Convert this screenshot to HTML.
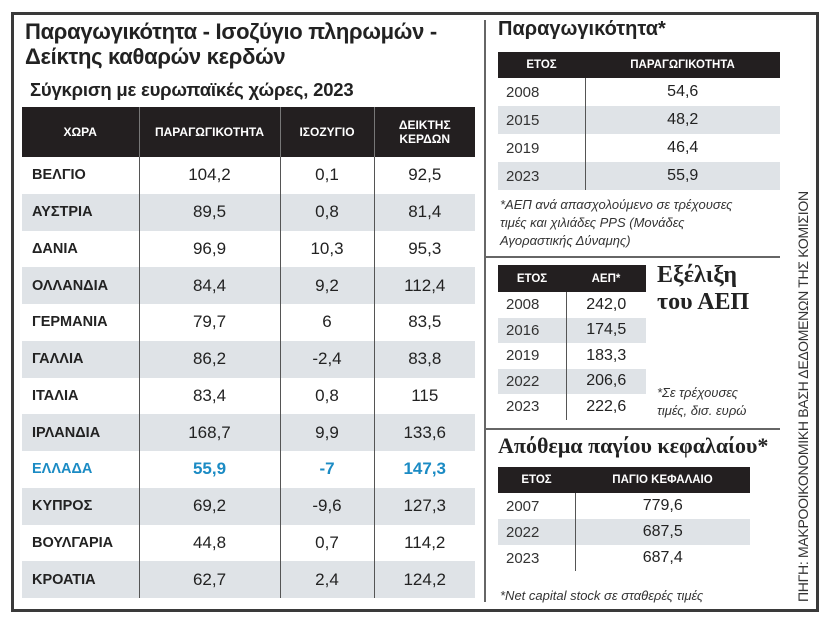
<!DOCTYPE html>
<html><head><meta charset="utf-8"><style>
*{margin:0;padding:0;box-sizing:border-box}
body{width:830px;height:622px;background:#fff;font-family:"Liberation Sans","DejaVu Sans",sans-serif;color:#222;position:relative;overflow:hidden}
.a{position:absolute}
.frame{left:11px;top:12px;width:808px;height:600px;border:3px solid #3a3a3a}
table{border-collapse:collapse;position:absolute}
td,th{padding:0}
th{background:#231f20;color:#fff;font-weight:bold;font-size:12px}
.lt td{height:36.75px;font-size:17px;text-align:center;border-left:1.5px solid #555}
.lt td:first-child{text-align:left;padding-left:10px;font-weight:bold;font-size:14.5px;border-left:none}
.g td{background:#dfe3e7}
.lt th{border-left:1.5px solid #777}
.lt th:first-child{border-left:none}
.gr td{color:#1b8bc4;font-weight:bold}
.rt td{font-size:16px;text-align:center;border-left:1.5px solid #555}
.rt td:first-child{text-align:left;padding-left:8px;border-left:none;font-size:15px;color:#333}
.rt th{font-size:11.5px}
.it{font-style:italic;font-size:13px;color:#333;line-height:18px}
.h{font-family:"Liberation Serif","DejaVu Serif",serif;font-weight:bold;color:#222;white-space:nowrap}
</style></head><body>
<div class="a frame"></div>
<div class="a" style="left:25px;top:19px;font-size:22px;line-height:25px;font-weight:bold;letter-spacing:-0.3px;white-space:nowrap">Παραγωγικότητα - Ισοζύγιο πληρωμών -<br>Δείκτης καθαρών κερδών</div>
<div class="a" style="left:30px;top:79px;font-size:18.5px;font-weight:bold;letter-spacing:-0.2px;white-space:nowrap">Σύγκριση με ευρωπαϊκές χώρες, 2023</div>
<table class="lt" style="left:22px;top:107px;width:453px">
<tr style="height:50px"><th style="width:117px">ΧΩΡΑ</th><th style="width:141px">ΠΑΡΑΓΩΓΙΚΟΤΗΤΑ</th><th style="width:94px">ΙΣΟΖΥΓΙΟ</th><th>ΔΕΙΚΤΗΣ<br>ΚΕΡΔΩΝ</th></tr>
<tr><td>ΒΕΛΓΙΟ</td><td>104,2</td><td>0,1</td><td>92,5</td></tr>
<tr class="g"><td>ΑΥΣΤΡΙΑ</td><td>89,5</td><td>0,8</td><td>81,4</td></tr>
<tr><td>ΔΑΝΙΑ</td><td>96,9</td><td>10,3</td><td>95,3</td></tr>
<tr class="g"><td>ΟΛΛΑΝΔΙΑ</td><td>84,4</td><td>9,2</td><td>112,4</td></tr>
<tr><td>ΓΕΡΜΑΝΙΑ</td><td>79,7</td><td>6</td><td>83,5</td></tr>
<tr class="g"><td>ΓΑΛΛΙΑ</td><td>86,2</td><td>-2,4</td><td>83,8</td></tr>
<tr><td>ΙΤΑΛΙΑ</td><td>83,4</td><td>0,8</td><td>115</td></tr>
<tr class="g"><td>ΙΡΛΑΝΔΙΑ</td><td>168,7</td><td>9,9</td><td>133,6</td></tr>
<tr class="gr"><td style="color:#1b8bc4">ΕΛΛΑΔΑ</td><td>55,9</td><td>-7</td><td>147,3</td></tr>
<tr class="g"><td>ΚΥΠΡΟΣ</td><td>69,2</td><td>-9,6</td><td>127,3</td></tr>
<tr><td>ΒΟΥΛΓΑΡΙΑ</td><td>44,8</td><td>0,7</td><td>114,2</td></tr>
<tr class="g"><td>ΚΡΟΑΤΙΑ</td><td>62,7</td><td>2,4</td><td>124,2</td></tr>
</table>
<div class="a" style="left:484px;top:20px;width:1.5px;height:582px;background:#666"></div>
<div class="a" style="left:498px;top:18px;font-size:20px;font-weight:bold;white-space:nowrap">Παραγωγικότητα*</div>
<table class="rt" style="left:498px;top:52px;width:282px">
<tr style="height:26px"><th style="width:87px">ΕΤΟΣ</th><th>ΠΑΡΑΓΩΓΙΚΟΤΗΤΑ</th></tr>
<tr style="height:28px"><td>2008</td><td>54,6</td></tr>
<tr class="g" style="height:28px"><td>2015</td><td>48,2</td></tr>
<tr style="height:28px"><td>2019</td><td>46,4</td></tr>
<tr class="g" style="height:28px"><td>2023</td><td>55,9</td></tr>
</table>
<div class="a it" style="left:500px;top:196px">*ΑΕΠ ανά απασχολούμενο σε τρέχουσες<br>τιμές και χιλιάδες PPS (Μονάδες<br>Αγοραστικής Δύναμης)</div>
<div class="a" style="left:485px;top:256px;width:295px;height:1.5px;background:#666"></div>
<table class="rt" style="left:498px;top:265px;width:148px">
<tr style="height:27px"><th style="width:68px">ΕΤΟΣ</th><th>ΑΕΠ*</th></tr>
<tr style="height:25.5px"><td>2008</td><td>242,0</td></tr>
<tr class="g" style="height:25.5px"><td>2016</td><td>174,5</td></tr>
<tr style="height:25.5px"><td>2019</td><td>183,3</td></tr>
<tr class="g" style="height:25.5px"><td>2022</td><td>206,6</td></tr>
<tr style="height:25.5px"><td>2023</td><td>222,6</td></tr>
</table>
<div class="a h" style="left:657px;top:262px;font-size:24px;line-height:27px">Εξέλιξη<br>του ΑΕΠ</div>
<div class="a it" style="left:657px;top:384px">*Σε τρέχουσες<br>τιμές, δισ. ευρώ</div>
<div class="a" style="left:485px;top:428px;width:295px;height:1.5px;background:#666"></div>
<div class="a h" style="left:498px;top:433px;font-size:22px">Απόθεμα παγίου κεφαλαίου*</div>
<table class="rt" style="left:498px;top:467px;width:252px">
<tr style="height:26px"><th style="width:77px">ΕΤΟΣ</th><th>ΠΑΓΙΟ ΚΕΦΑΛΑΙΟ</th></tr>
<tr style="height:26px"><td>2007</td><td>779,6</td></tr>
<tr class="g" style="height:26px"><td>2022</td><td>687,5</td></tr>
<tr style="height:26px"><td>2023</td><td>687,4</td></tr>
</table>
<div class="a it" style="left:500px;top:587px">*Net capital stock σε σταθερές τιμές</div>
<div class="a" style="left:796px;top:602px;transform-origin:0 0;transform:rotate(-90deg);white-space:nowrap;font-size:14px;line-height:15px;color:#333;letter-spacing:-0.3px">ΠΗΓΗ: ΜΑΚΡΟΟΙΚΟΝΟΜΙΚΗ ΒΑΣΗ ΔΕΔΟΜΕΝΩΝ ΤΗΣ ΚΟΜΙΣΙΟΝ</div>
</body></html>
